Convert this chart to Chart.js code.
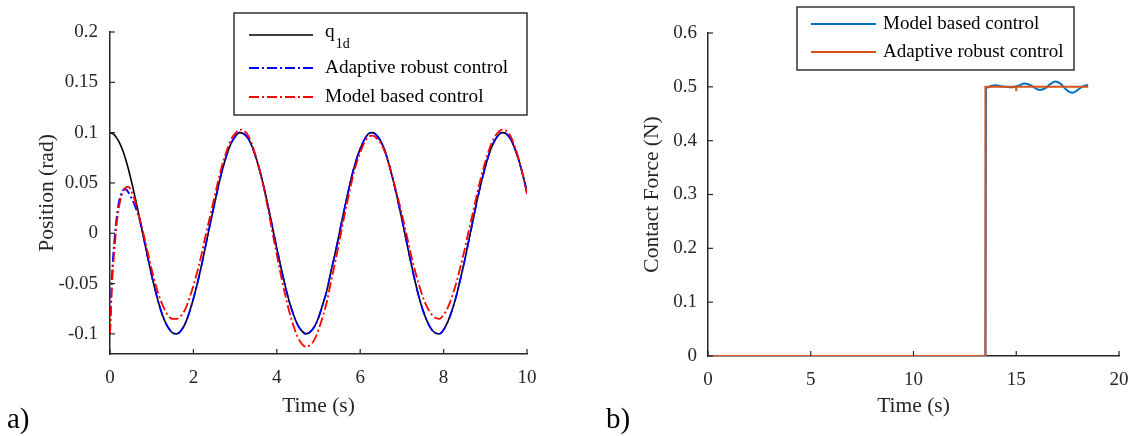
<!DOCTYPE html>
<html><head><meta charset="utf-8">
<script src="https://cdn.jsdelivr.net/npm/chart.js@4.4.0/dist/chart.umd.min.js"></script>
<style>
html,body{margin:0;padding:0;background:#fff;}
body{width:1133px;height:436px;position:relative;overflow:hidden;font-family:"Liberation Serif",serif;}
.box{position:absolute;top:0;height:436px;}
.tag{position:absolute;font-size:29px;line-height:1;color:#000;font-family:"Liberation Serif",serif;}
</style></head><body>
<div class="box" style="left:0;width:560px"><canvas id="c1"></canvas></div>
<div class="box" style="left:566px;width:567px"><canvas id="c2"></canvas></div>
<div class="tag" style="left:7px;top:404px">a)</div>
<div class="tag" style="left:606px;top:404px">b)</div>
<script>
// ---------- Panel a) data ----------
const tRef = [0,0.1,0.2,0.3,0.4,0.5,0.6,0.7,0.8,0.9,1,1.1,1.2,1.3,1.4,1.5,1.6,1.7,1.8,1.9,2,2.1,2.2,2.3,2.4,2.5,2.6,2.7,2.8,2.9,3,3.1,3.2,3.3,3.4,3.5,3.6,3.7,3.8,3.9,4,4.1,4.2,4.3,4.4,4.5,4.6,4.7,4.8,4.9,5,5.1,5.2,5.3,5.4,5.5,5.6,5.7,5.8,5.9,6,6.1,6.2,6.3,6.4,6.5,6.6,6.7,6.8,6.9,7,7.1,7.2,7.3,7.4,7.5,7.6,7.7,7.8,7.9,8,8.1,8.2,8.3,8.4,8.5,8.6,8.7,8.8,8.9,9,9.1,9.2,9.3,9.4,9.5,9.6,9.7,9.8,9.9,10];
const qRef = [0.100,0.098,0.092,0.083,0.070,0.054,0.036,0.017,-0.003,-0.023,
-0.042,-0.059,-0.074,-0.086,-0.094,-0.099,-0.100,-0.097,-0.090,-0.079,
-0.065,-0.049,-0.031,-0.011,0.009,0.028,0.047,0.064,0.078,0.089,
0.096,0.100,0.099,0.095,0.087,0.075,0.061,0.044,0.025,0.005,
-0.015,-0.034,-0.052,-0.068,-0.081,-0.091,-0.097,-0.100,-0.098,-0.093,
-0.084,-0.071,-0.057,-0.038,-0.020,0.000,0.020,0.039,0.057,0.072,
0.084,0.093,0.099,0.100,0.097,0.091,0.081,0.067,0.051,0.033,
0.014,-0.006,-0.026,-0.045,-0.062,-0.076,-0.087,-0.095,-0.099,-0.100,
-0.096,-0.088,-0.077,-0.063,-0.046,-0.028,-0.008,0.012,0.032,0.050,
0.066,0.080,0.090,0.097,0.100,0.099,0.094,0.085,0.073,0.058,
0.041];
const tCtrl = [0,0.05,0.1,0.15,0.2,0.25,0.3,0.35,0.4,0.45,0.5,0.6,0.7,0.8,0.9,1,1.1,1.2,1.3,1.4,1.5,1.6,1.7,1.8,1.9,2,2.1,2.2,2.3,2.4,2.5,2.6,2.7,2.8,2.9,3,3.1,3.2,3.3,3.4,3.5,3.6,3.7,3.8,3.9,4,4.1,4.2,4.3,4.4,4.5,4.6,4.7,4.8,4.9,5,5.1,5.2,5.3,5.4,5.5,5.6,5.7,5.8,5.9,6,6.1,6.2,6.3,6.4,6.5,6.6,6.7,6.8,6.9,7,7.1,7.2,7.3,7.4,7.5,7.6,7.7,7.8,7.9,8,8.1,8.2,8.3,8.4,8.5,8.6,8.7,8.8,8.9,9,9.1,9.2,9.3,9.4,9.5,9.6,9.7,9.8,9.9,10];
const arcPos = [-0.100,-0.040,-0.010,0.012,0.028,0.037,0.042,0.044,0.043,0.040,0.036,0.027,0.015,-0.003,
-0.023,-0.042,-0.059,-0.074,-0.086,-0.094,-0.099,-0.100,-0.097,-0.090,-0.079,
-0.065,-0.049,-0.031,-0.011,0.009,0.028,0.047,0.064,0.078,0.089,
0.096,0.100,0.099,0.095,0.087,0.075,0.061,0.044,0.025,0.005,
-0.015,-0.034,-0.052,-0.068,-0.081,-0.091,-0.097,-0.100,-0.098,-0.093,
-0.084,-0.071,-0.057,-0.038,-0.020,0.000,0.020,0.039,0.057,0.072,
0.084,0.093,0.099,0.100,0.097,0.091,0.081,0.067,0.051,0.033,
0.014,-0.006,-0.026,-0.045,-0.062,-0.076,-0.087,-0.095,-0.099,-0.100,
-0.096,-0.088,-0.077,-0.063,-0.046,-0.028,-0.008,0.012,0.032,0.050,
0.066,0.080,0.090,0.097,0.100,0.099,0.094,0.085,0.073,0.058,
0.041];
const mbcPos = [-0.100,-0.050,-0.020,0.005,0.022,0.033,0.040,0.044,0.046,0.046,0.043,0.032,0.016,0.000,
-0.018,-0.036,-0.052,-0.065,-0.075,-0.082,-0.085,-0.085,-0.082,-0.076,
-0.065,-0.052,-0.037,-0.020,-0.001,0.017,0.035,0.053,0.069,0.082,
0.093,0.099,0.103,0.102,0.098,0.089,0.076,0.061,0.043,0.022,
0.000,-0.021,-0.042,-0.061,-0.078,-0.092,-0.103,-0.110,-0.113,-0.111,
-0.106,-0.096,-0.083,-0.068,-0.048,-0.029,-0.008,0.013,0.033,0.052,
0.068,0.080,0.090,0.096,0.097,0.094,0.089,0.080,0.067,0.052,
0.036,0.019,0.001,-0.018,-0.035,-0.050,-0.063,-0.073,-0.080,-0.084,
-0.085,-0.081,-0.074,-0.063,-0.050,-0.034,-0.017,0.002,0.020,0.039,
0.056,0.071,0.084,0.094,0.100,0.103,0.102,0.097,0.087,0.074,
0.058,0.039];
const posXTicks = [0,2,4,6,8,10];
const posXLabels = ['0','2','4','6','8','10'];
const posYTicks = [-0.1,-0.05,0,0.05,0.1,0.15,0.2];
const posYLabels = ['-0.1','-0.05','0','0.05','0.1','0.15','0.2'];

// ---------- Panel b) data ----------
const tForceMbc = [0,13.5,13.53,13.6,13.8,14.0,14.25,14.5,14.8,15.1,15.4,15.7,15.95,16.15,16.4,16.65,16.9,17.15,17.4,17.6,17.75,17.95,18.2,18.4,18.5];
const forceMbc  = [0,0,0.496,0.499,0.502,0.503,0.501,0.500,0.499,0.502,0.506,0.503,0.497,0.494,0.497,0.505,0.510,0.506,0.496,0.490,0.489,0.493,0.500,0.503,0.503];
const tForceArc = [0,13.5,13.5,15.0,15.0,15.0,18.5];
const forceArc  = [0,0,0.5,0.5,0.492,0.5,0.5];
const forceXTicks = [0,5,10,15,20];
const forceXLabels = ['0','5','10','15','20'];
const forceYTicks = [0,0.1,0.2,0.3,0.4,0.5,0.6];
const forceYLabels = ['0','0.1','0.2','0.3','0.4','0.5','0.6'];

const AX = '#262626';
const FONT = '"Liberation Serif", "Times New Roman", serif';
Chart.defaults.font.family = FONT;
Chart.defaults.color = AX;

function pts(t, v){ return t.map((x,i)=>({x:x, y:v[i]})); }

const inwardTicks = {
  id:'inwardTicks',
  afterDatasetsDraw(chart){
    const {ctx, chartArea:a, scales} = chart;
    ctx.save();
    ctx.strokeStyle = AX; ctx.lineWidth = 1.2; ctx.setLineDash([]);
    scales.x.ticks.forEach(t=>{
      const px = scales.x.getPixelForValue(t.value);
      ctx.beginPath(); ctx.moveTo(px, a.bottom); ctx.lineTo(px, a.bottom-5); ctx.stroke();
    });
    scales.y.ticks.forEach(t=>{
      const py = scales.y.getPixelForValue(t.value);
      ctx.beginPath(); ctx.moveTo(a.left, py); ctx.lineTo(a.left+5, py); ctx.stroke();
    });
    ctx.restore();
  }
};

const boxLegend = {
  id:'boxLegend',
  afterDraw(chart, args, o){
    if(!o || !o.rows) return;
    const ctx = chart.ctx;
    ctx.save();
    ctx.fillStyle = '#fff'; ctx.fillRect(o.x, o.y, o.w, o.h);
    ctx.strokeStyle = AX; ctx.lineWidth = 1.4; ctx.strokeRect(o.x, o.y, o.w, o.h);
    o.rows.forEach(r=>{
      const ds = chart.data.datasets[r.index];
      ctx.strokeStyle = ds.borderColor; ctx.lineWidth = ds.borderWidth;
      ctx.setLineDash(ds.borderDash || []);
      ctx.beginPath(); ctx.moveTo(o.lineX1, r.y); ctx.lineTo(o.lineX2, r.y); ctx.stroke();
      ctx.setLineDash([]);
      ctx.fillStyle = '#000'; ctx.textAlign = 'left'; ctx.textBaseline = 'middle';
      ctx.font = o.fontSize + 'px ' + FONT;
      const ty = (r.textY !== undefined) ? r.textY : r.y;
      ctx.fillText(ds.label, o.textX, ty);
      if (ds.labelSub){
        const w = ctx.measureText(ds.label).width;
        ctx.font = '14px ' + FONT;
        ctx.fillText(ds.labelSub, o.textX + w + 1, ty + 12);
      }
    });
    ctx.restore();
  }
};

function axisX(min, max, vals, labels, title, boxH){
  return {
    type:'linear', min:min, max:max,
    afterBuildTicks: s => { s.ticks = vals.map(v=>({value:v})); },
    ticks:{ padding:13, font:{size:19}, color:AX, maxRotation:0, autoSkip:false,
            callback: v => labels[vals.indexOf(v)] },
    grid:{ display:true, drawOnChartArea:false, drawTicks:false },
    border:{ display:true, color:AX, width:1.5 },
    title:{ display:true, text:title, font:{size:21.5}, color:AX, padding:{top:0, bottom:17} },
    afterFit: s => { s.height = boxH; s.paddingLeft = 0; s.paddingRight = 0; }
  };
}
function axisY(min, max, vals, labels, title, boxW, tpad, lpad){
  return {
    type:'linear', min:min, max:max,
    afterBuildTicks: s => { s.ticks = vals.map(v=>({value:v})); },
    ticks:{ padding:lpad, font:{size:19}, color:AX, autoSkip:false,
            callback: v => labels[vals.indexOf(v)] },
    grid:{ display:true, drawOnChartArea:false, drawTicks:false },
    border:{ display:true, color:AX, width:1.5 },
    title:{ display:true, text:title, font:{size:21.5}, color:AX, padding:{top:tpad, bottom:0} },
    afterFit: s => { s.width = boxW; s.paddingTop = 0; s.paddingBottom = 0; }
  };
}

const common = { responsive:true, maintainAspectRatio:false, animation:false, devicePixelRatio:1, events:[] };
const DASHDOT = [10,3,2,3];

new Chart(document.getElementById('c1'), {
  type:'scatter',
  data:{ datasets:[
    { label:'q', labelSub:'1d', data:pts(tRef,qRef), borderColor:'#000000', borderWidth:1.6,
      showLine:true, pointRadius:0, order:3, cubicInterpolationMode:'monotone' },
    { label:'Adaptive robust control', data:pts(tCtrl,arcPos), borderColor:'#0000ff', borderWidth:1.8,
      borderDash:DASHDOT, showLine:true, pointRadius:0, order:2, cubicInterpolationMode:'monotone' },
    { label:'Model based control', data:pts(tCtrl,mbcPos), borderColor:'#ff0000', borderWidth:1.8,
      borderDash:DASHDOT, showLine:true, pointRadius:0, order:1, cubicInterpolationMode:'monotone' }
  ]},
  options: Object.assign({}, common, {
    layout:{ padding:{ left:0, right:33, top:32, bottom:0 } },
    plugins:{ legend:{display:false}, tooltip:{enabled:false},
      boxLegend:{ x:234, y:13, w:293, h:102, lineX1:249, lineX2:313, textX:325, fontSize:19.3,
        rows:[ {index:0, y:35, textY:32}, {index:1, y:68}, {index:2, y:97} ] } },
    scales:{
      x: axisX(0, 10, posXTicks, posXLabels, 'Time (s)', 82),
      y: axisY(-0.12, 0.2, posYTicks, posYLabels, 'Position (rad)', 110, 34, 12)
    }
  }),
  plugins:[inwardTicks, boxLegend]
});

new Chart(document.getElementById('c2'), {
  type:'scatter',
  data:{ datasets:[
    { label:'Model based control', data:pts(tForceMbc,forceMbc), borderColor:'#0072BD', borderWidth:2,
      showLine:true, pointRadius:0, order:2, cubicInterpolationMode:'monotone' },
    { label:'Adaptive robust control', data:pts(tForceArc,forceArc), borderColor:'#D95319', borderWidth:2,
      showLine:true, pointRadius:0, order:1, tension:0 }
  ]},
  options: Object.assign({}, common, {
    layout:{ padding:{ left:0, right:14, top:33, bottom:0 } },
    plugins:{ legend:{display:false}, tooltip:{enabled:false},
      boxLegend:{ x:231, y:7, w:277, h:63, lineX1:245, lineX2:310, textX:317, fontSize:19,
        rows:[ {index:0, y:24}, {index:1, y:52} ] } },
    scales:{
      x: axisX(0, 20, forceXTicks, forceXLabels, 'Time (s)', 80),
      y: axisY(0, 0.6, forceYTicks, forceYLabels, 'Contact Force (N)', 142, 73, 11)
    }
  }),
  plugins:[inwardTicks, boxLegend]
});
</script>
</body></html>
